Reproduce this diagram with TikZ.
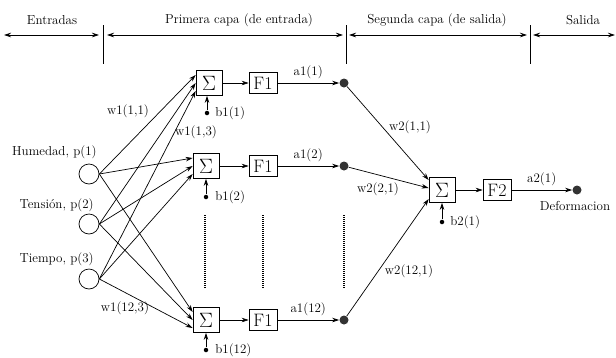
\documentclass[tikz,border=0pt]{standalone}
\usetikzlibrary{arrows.meta}
\begin{document}
\begin{tikzpicture}[x=1pt,y=-1pt, line width=0.7pt,
  >={Stealth[length=7pt,width=4.5pt]},
  txt/.style={font=\fontsize{13}{15}\selectfont, inner sep=0pt},
  sumbox/.style={draw, minimum width=26pt, minimum height=25pt, inner sep=0pt, font=\fontsize{22}{22}\selectfont},
  fbox/.style={draw, minimum width=28pt, minimum height=21pt, inner sep=0pt, font=\fontsize{18}{18}\selectfont},
  outdot/.style={circle, fill=black!80, minimum size=9pt, inner sep=0pt},
  bdot/.style={circle, fill=black, minimum size=4.5pt, inner sep=0pt},
  inp/.style={circle, draw, minimum size=20pt, inner sep=0pt},
  dotline/.style={line width=1.2pt, dash pattern=on 0.8pt off 1.2pt}
]
\useasboundingbox (0,0) rectangle (616,357);

% ---- top header ----
\node[txt] (hEnt) at (52,20) {Entradas};
\node[txt] (hPri) at (239,20) {Primera capa (de entrada)};
\node[txt] (hSeg) at (437,20) {Segunda capa (de salida)};
\node[txt] (hSal) at (583,20) {Salida};
\coordinate (v1t) at (103,25); \coordinate (v1b) at (103,64);
\coordinate (v2t) at (346,25); \coordinate (v2b) at (346,64);
\coordinate (v3t) at (530,25); \coordinate (v3b) at (530,64);
\draw (v1t) -- (v1b); \draw (v2t) -- (v2b); \draw (v3t) -- (v3b);
\coordinate (h0) at (4,35); \coordinate (h1) at (99,35);
\coordinate (h2) at (107,35); \coordinate (h3) at (343,35);
\coordinate (h4) at (349,35); \coordinate (h5) at (527,35);
\coordinate (h6) at (533,35); \coordinate (h7) at (615,35);
\draw[<->] (h0) -- (h1);
\draw[<->] (h2) -- (h3);
\draw[<->] (h4) -- (h5);
\draw[<->] (h6) -- (h7);

% ---- inputs ----
\node[inp] (p1) at (89,174) {};
\node[inp] (p2) at (89,224) {};
\node[inp] (p3) at (89,279) {};
\node[txt, anchor=east] (lp1) at (97,152) {Humedad, p(1)};
\node[txt, anchor=east] (lp2) at (94,205) {Tensión, p(2)};
\node[txt, anchor=east] (lp3) at (94,259) {Tiempo, p(3)};

% ---- first layer ----
\node[sumbox] (s1) at (209,83) {$\Sigma$};
\node[sumbox] (s2) at (206,166) {$\Sigma$};
\node[sumbox] (s3) at (206,320) {$\Sigma$};
\node[fbox] (f1) at (263,83) {F1};
\node[fbox] (f2) at (263,166) {F1};
\node[fbox] (f3) at (263,320) {F1};
\node[outdot] (o1) at (344,83) {};
\node[outdot] (o2) at (344,166) {};
\node[outdot] (o3) at (344,320) {};

\draw[->] (s1) -- (f1);
\draw[->] (s2) -- (f2);
\draw[->] (s3) -- (f3);
\draw[->] (f1) -- (o1) node[txt, midway, above=4pt] {a1(1)};
\draw[->] (f2) -- (o2) node[txt, midway, above=4pt] {a1(2)};
\draw[->] (f3) -- (o3) node[txt, midway, above=4pt] {a1(12)};

% biases
\node[bdot] (b1) at (207,113) {};
\node[bdot] (b2) at (206,197) {};
\node[bdot] (b3) at (206,350) {};
\draw[->] (b1) -- (b1 |- s1.south);
\draw[->] (b2) -- (b2 |- s2.south);
\draw[->] (b3) -- (b3 |- s3.south);
\node[txt, anchor=west] (lb1) at (215,113) {b1(1)};
\node[txt, anchor=west] (lb2) at (215,197) {b1(2)};
\node[txt, anchor=west] (lb3) at (215,350) {b1(12)};

% input connections
\foreach \s in {s1,s2,s3}{
  \draw[->] (p1.east) -- ([yshift=8pt]\s.west);
  \draw[->] (p2.east) -- ([yshift=0pt]\s.west);
  \draw[->] (p3.east) -- ([yshift=-8pt]\s.west);
}
\node[txt] (lw11) at (128,111) {w1(1,1)};
\node[txt] (lw13) at (196,132) {w1(1,3)};
\node[txt] (lw123) at (125,308) {w1(12,3)};

% dotted continuation
\coordinate (d1t) at (205,215); \coordinate (d1b) at (205,288);
\coordinate (d2t) at (263,215); \coordinate (d2b) at (263,288);
\coordinate (d3t) at (344,215); \coordinate (d3b) at (344,288);
\draw[dotline] (d1t) -- (d1b);
\draw[dotline] (d2t) -- (d2b);
\draw[dotline] (d3t) -- (d3b);

% ---- second layer ----
\node[sumbox] (t) at (442,190) {$\Sigma$};
\node[fbox] (g) at (497,190) {F2};
\node[outdot] (out) at (577,190) {};
\draw[->] (t) -- (g);
\draw[->] (g) -- (out) node[txt, midway, above=4pt] {a2(1)};
\node[txt] (ldef) at (575,206) {Deformacion};
\node[bdot] (bb) at (442,222) {};
\draw[->] (bb) -- (bb |- t.south);
\node[txt, anchor=west] (lbb) at (450,222) {b2(1)};

\draw[->] (o1) -- ([yshift=10pt]t.west);
\draw[->] (o2) -- ([yshift=2pt]t.west);
\draw[->] (o3) -- ([yshift=-9pt]t.west);
\node[txt] (lw211) at (410,127) {w2(1,1)};
\node[txt] (lw221) at (378,189) {w2(2,1)};
\node[txt] (lw2121) at (409,271) {w2(12,1)};
\end{tikzpicture}
\end{document}
